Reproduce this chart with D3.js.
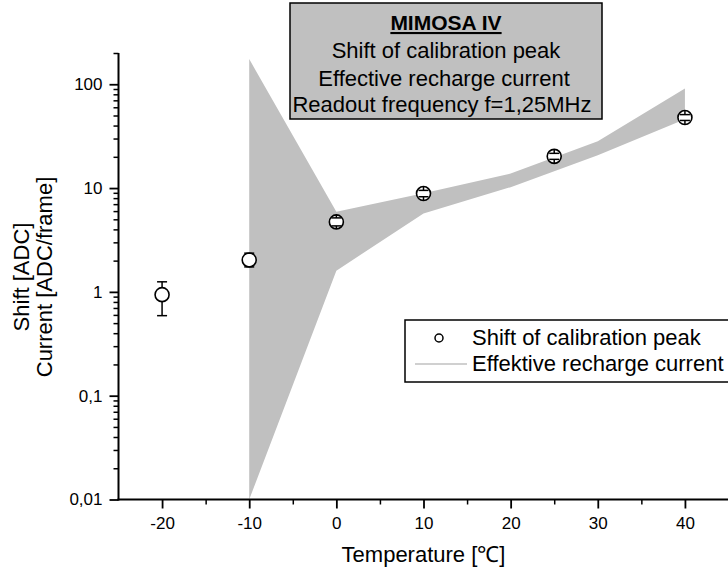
<!DOCTYPE html>
<html>
<head>
<meta charset="utf-8">
<script src="https://cdn.jsdelivr.net/npm/d3@7"></script>
<style>
  html, body { margin: 0; padding: 0; background: #fff; }
  svg { display: block; }
  text { font-family: "Liberation Sans", Arial, Helvetica, sans-serif; fill: #000; }
</style>
</head>
<body>
<svg id="chart" width="728" height="574"></svg>
<script>
// ---- data ----
const temps = [-20, -10, 0, 10, 25, 40];
const shift = [0.94, 2.03, 4.72, 8.85, 20.2, 47.8];
const shiftErrUp = [0.31, 0.33, 0.44, 0.65, 1.4, 3.2];
const shiftErrDown = [0.35, 0.29, 0.40, 0.60, 1.3, 3.0];

const bandTemps = [-10, 0, 10, 20, 30, 40];
const bandUpper = [175, 5.9, 8.9, 13.8, 28.2, 91];
const bandLower = [0.01, 1.6, 5.7, 10.2, 20.7, 46];

const xMajorTicks = [-20, -10, 0, 10, 20, 30, 40];
const xMinorTicks = [-15, -5, 5, 15, 25, 35, 45];
const yMajorTicks = [0.01, 0.1, 1, 10, 100];
const yMajorLabels = ["0,01", "0,1", "1", "10", "100"];

const titleLines = ["MIMOSA IV", "Shift of calibration peak", "Effective recharge current", "Readout frequency f=1,25MHz"];
const legendLabels = ["Shift of calibration peak", "Effektive recharge current"];
const xTitle = "Temperature [\u2103]";
const yTitleLines = ["Shift [ADC]", "Current [ADC/frame]"];

// ---- setup ----
const svg = d3.select("#chart");
const GRAY = "#c0c0c0";
const x = d3.scaleLinear().domain([-25, 45]).range([118.5, 728.5]);
const y = d3.scaleLog().domain([0.01, 200]).range([499.5, 53]);

// band
const bandData = bandTemps.map((t, i) => ({ t, lo: bandLower[i], hi: bandUpper[i] }));
svg.append("path")
  .datum(bandData)
  .attr("fill", GRAY)
  .attr("stroke", "none")
  .attr("d", d3.area().x(d => x(d.t)).y0(d => y(d.lo)).y1(d => y(d.hi)));

// y minor ticks
const yMinor = [];
[0.01, 0.1, 1, 10, 100].forEach(dec => {
  for (let k = 2; k <= 9; k++) { const v = dec * k; if (v <= 200) yMinor.push(v); }
});
const gyMinor = svg.append("g").attr("transform", "translate(118.5,0)")
  .call(d3.axisLeft(y).tickValues(yMinor).tickSize(5).tickFormat(""));
gyMinor.select(".domain").remove();
gyMinor.selectAll("line").attr("stroke-width", 1.5);

const gy = svg.append("g").attr("transform", "translate(118.5,0)")
  .call(d3.axisLeft(y).tickValues(yMajorTicks).tickSize(9).tickPadding(7)
    .tickFormat((d, i) => yMajorLabels[i]));
gy.select(".domain").remove();
gy.selectAll("line").attr("stroke-width", 1.8);
gy.selectAll("text").attr("font-size", 17).style("font-family", "Liberation Sans, Arial, sans-serif");

// x minor ticks
const gxMinor = svg.append("g").attr("transform", "translate(0,499.5)")
  .call(d3.axisBottom(x).tickValues(xMinorTicks).tickSize(5).tickFormat(""));
gxMinor.select(".domain").remove();
gxMinor.selectAll("line").attr("stroke-width", 1.5);

const gx = svg.append("g").attr("transform", "translate(0,499.5)")
  .call(d3.axisBottom(x).tickValues(xMajorTicks).tickSize(9).tickPadding(8).tickFormat(d => String(d)));
gx.select(".domain").remove();
gx.selectAll("line").attr("stroke-width", 1.8);
gx.selectAll("text").attr("font-size", 17).style("font-family", "Liberation Sans, Arial, sans-serif");

// axis lines
svg.append("line").attr("x1", 118.5).attr("x2", 118.5).attr("y1", y(200)).attr("y2", 500.5)
  .attr("stroke", "#000").attr("stroke-width", 2);
svg.append("line").attr("x1", 117.5).attr("x2", 728).attr("y1", 499.5).attr("y2", 499.5)
  .attr("stroke", "#000").attr("stroke-width", 2);

// axis titles
svg.append("text").attr("x", x(10)).attr("y", 562).attr("text-anchor", "middle")
  .attr("font-size", 22).text(xTitle);
yTitleLines.forEach((s, i) => {
  svg.append("text")
    .attr("transform", `translate(${[29, 52][i]},277) rotate(-90)`)
    .attr("text-anchor", "middle").attr("font-size", 22).text(s);
});

// data points with error bars
const R = 7;
const pts = temps.map((t, i) => ({ t, v: shift[i], up: shift[i] + shiftErrUp[i], dn: shift[i] - shiftErrDown[i] }));
const gp = svg.append("g");
pts.forEach(p => {
  const cx = x(p.t), cy = y(p.v);
  gp.append("circle").attr("cx", cx).attr("cy", cy).attr("r", R)
    .attr("fill", "#fff").attr("stroke", "#000").attr("stroke-width", 1.6);
  const yu = y(p.up), yd = y(p.dn);
  gp.append("line").attr("x1", cx).attr("x2", cx).attr("y1", cy - R).attr("y2", yu)
    .attr("stroke", "#000").attr("stroke-width", 1.5);
  gp.append("line").attr("x1", cx).attr("x2", cx).attr("y1", cy + R).attr("y2", yd)
    .attr("stroke", "#000").attr("stroke-width", 1.5);
  gp.append("line").attr("x1", cx - 5).attr("x2", cx + 5).attr("y1", yu).attr("y2", yu)
    .attr("stroke", "#000").attr("stroke-width", 1.5);
  gp.append("line").attr("x1", cx - 5).attr("x2", cx + 5).attr("y1", yd).attr("y2", yd)
    .attr("stroke", "#000").attr("stroke-width", 1.5);
});

// title box
svg.append("rect").attr("x", 290).attr("y", 3).attr("width", 312).attr("height", 116)
  .attr("fill", GRAY).attr("stroke", "#000").attr("stroke-width", 1.5);
const tCx = [446, 446, 444, 442];
const tBy = [30, 58, 86, 112];
titleLines.forEach((s, i) => {
  const t = svg.append("text").attr("x", tCx[i]).attr("y", tBy[i]).attr("text-anchor", "middle")
    .attr("font-size", i === 0 ? 21 : 22).text(s);
  if (i === 0) t.attr("font-weight", "bold").attr("text-decoration", "underline");
});

// legend
svg.append("rect").attr("x", 405).attr("y", 320).attr("width", 400).attr("height", 62)
  .attr("fill", "#fff").attr("stroke", "#000").attr("stroke-width", 1.5);
svg.append("circle").attr("cx", 439).attr("cy", 338).attr("r", 4)
  .attr("fill", "#fff").attr("stroke", "#000").attr("stroke-width", 1.5);
svg.append("line").attr("x1", 415).attr("x2", 467).attr("y1", 364).attr("y2", 364)
  .attr("stroke", GRAY).attr("stroke-width", 1.5);
legendLabels.forEach((s, i) => {
  svg.append("text").attr("x", 472).attr("y", [345, 371][i]).attr("font-size", 22).text(s);
});
</script>
</body>
</html>
